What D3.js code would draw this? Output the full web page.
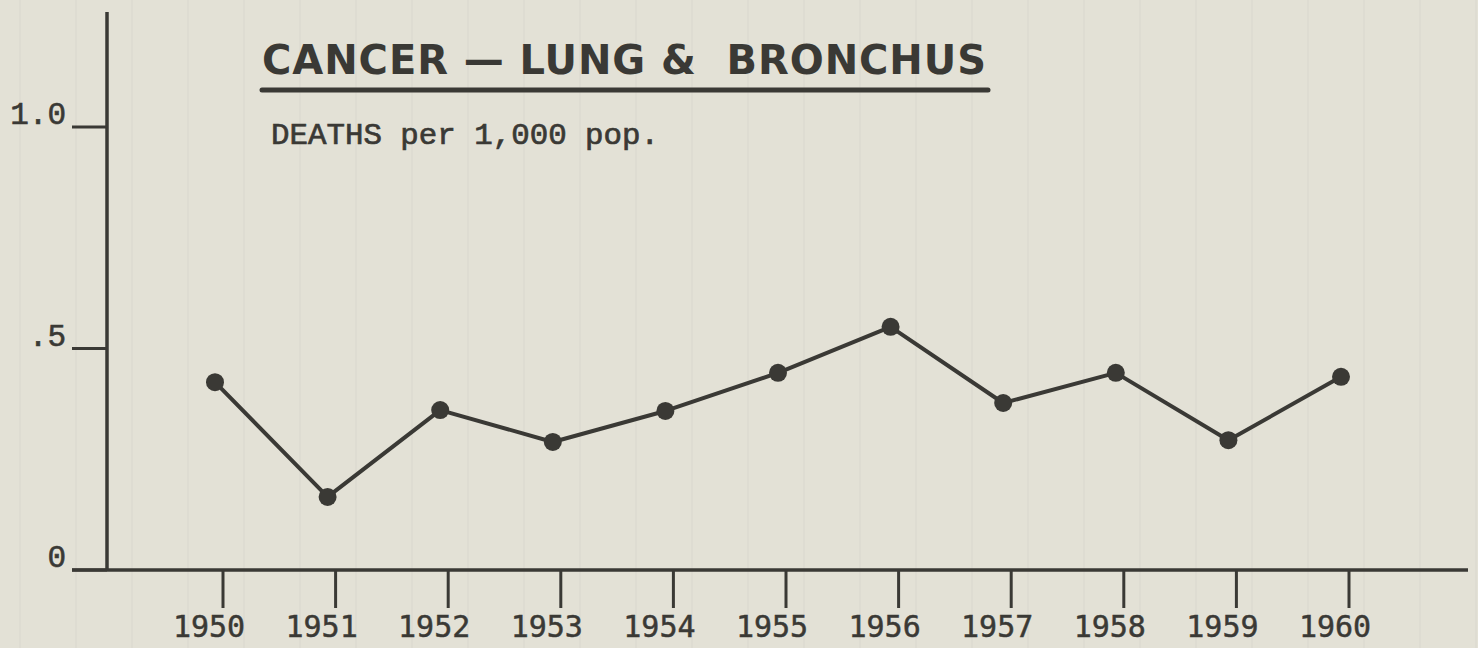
<!DOCTYPE html>
<html>
<head>
<meta charset="utf-8">
<script src="https://cdn.jsdelivr.net/npm/d3@7"></script>
<style>
  body { margin: 0; background: #e3e1d6; }
  svg { display: block; }
</style>
</head>
<body>
<svg id="chart" width="1478" height="648"></svg>
<script>
// values
var years = [1950, 1951, 1952, 1953, 1954, 1955, 1956, 1957, 1958, 1959, 1960];
var deaths = [0.424, 0.165, 0.361, 0.289, 0.359, 0.445, 0.549, 0.377, 0.445, 0.293, 0.436];
var yTicks = [0, 0.5, 1.0];
var yTickLabels = ["0", ".5", "1.0"];

var svg = d3.select("#chart");
var ink = "#3a3935";

// the hand drawn axes
var x = d3.scaleLinear().domain([1950, 1960]).range([223, 1349]);
var y = d3.scaleLinear().domain([0, 1]).range([570, 127]);

// the dots sit a little left of the year ticks on the original
var dotShift = -8;

// faint paper ruling
var rules = d3.range(0, 1478, 56);
svg.append("g").selectAll("line")
    .data(rules)
  .enter().append("line")
    .attr("x1", function(d) { return d + 20; })
    .attr("x2", function(d) { return d + 20; })
    .attr("y1", 0).attr("y2", 648)
    .attr("stroke", "#dcdad0")
    .attr("stroke-width", 1.5);

// y axis line
svg.append("line")
    .attr("x1", 107).attr("x2", 107)
    .attr("y1", 12).attr("y2", y(0))
    .attr("stroke", ink).attr("stroke-width", 3.5);

// x axis line (starts left of the y axis like the 0 tick)
svg.append("line")
    .attr("x1", 72).attr("x2", 1468)
    .attr("y1", y(0)).attr("y2", y(0))
    .attr("stroke", ink).attr("stroke-width", 3.5);

// y ticks
var yt = svg.append("g").selectAll("g")
    .data(yTicks)
  .enter().append("g");

yt.append("line")
    .attr("x1", 72).attr("x2", 107)
    .attr("y1", function(d) { return y(d); })
    .attr("y2", function(d) { return y(d); })
    .attr("stroke", ink).attr("stroke-width", 3);

yt.append("text")
    .attr("x", 66)
    .attr("y", function(d) { return y(d) - 3; })
    .attr("text-anchor", "end")
    .attr("font-family", "'Liberation Mono', 'DejaVu Sans Mono', monospace")
    .attr("font-size", 31)
    .attr("fill", ink)
    .attr("stroke", ink).attr("stroke-width", 0.6)
    .text(function(d, i) { return yTickLabels[i]; });

// x ticks
var xt = svg.append("g").selectAll("g")
    .data(years)
  .enter().append("g");

xt.append("line")
    .attr("x1", function(d) { return x(d); })
    .attr("x2", function(d) { return x(d); })
    .attr("y1", y(0)).attr("y2", 608)
    .attr("stroke", ink).attr("stroke-width", 3);

xt.append("text")
    .attr("x", function(d) { return x(d) - 14; })
    .attr("y", 637)
    .attr("text-anchor", "middle")
    .attr("font-family", "'DejaVu Sans Mono', monospace")
    .attr("font-size", 30)
    .attr("fill", ink)
    .attr("stroke", ink).attr("stroke-width", 0.5)
    .text(function(d) { return d; });

// the series
var line = d3.line()
    .x(function(d, i) { return x(years[i]) + dotShift; })
    .y(function(d) { return y(d); });

svg.append("path")
    .datum(deaths)
    .attr("d", line)
    .attr("fill", "none")
    .attr("stroke", ink)
    .attr("stroke-width", 4)
    .attr("stroke-linejoin", "round");

svg.append("g").selectAll("circle")
    .data(deaths)
  .enter().append("circle")
    .attr("cx", function(d, i) { return x(years[i]) + dotShift; })
    .attr("cy", function(d) { return y(d); })
    .attr("r", 9)
    .attr("fill", ink);

// title and underline
svg.append("text")
    .attr("x", 262).attr("y", 74)
    .style("white-space", "pre")
    .attr("font-family", "'DejaVu Sans', sans-serif")
    .attr("font-weight", "bold")
    .attr("font-size", 40)
    .attr("textLength", 724)
    .attr("lengthAdjust", "spacing")
    .attr("fill", ink)
    .text("CANCER \u2014 LUNG &  BRONCHUS");

svg.append("line")
    .attr("x1", 262).attr("x2", 988)
    .attr("y1", 90).attr("y2", 90)
    .attr("stroke", ink).attr("stroke-width", 5)
    .attr("stroke-linecap", "round");

svg.append("text")
    .attr("x", 271).attr("y", 144)
    .attr("font-family", "'Liberation Mono', 'Courier New', monospace")
    .attr("font-size", 30)
    .attr("textLength", 388)
    .attr("lengthAdjust", "spacingAndGlyphs")
    .attr("fill", ink)
    .attr("stroke", ink).attr("stroke-width", 0.7)
    .text("DEATHS per 1,000 pop.");
</script>
</body>
</html>
